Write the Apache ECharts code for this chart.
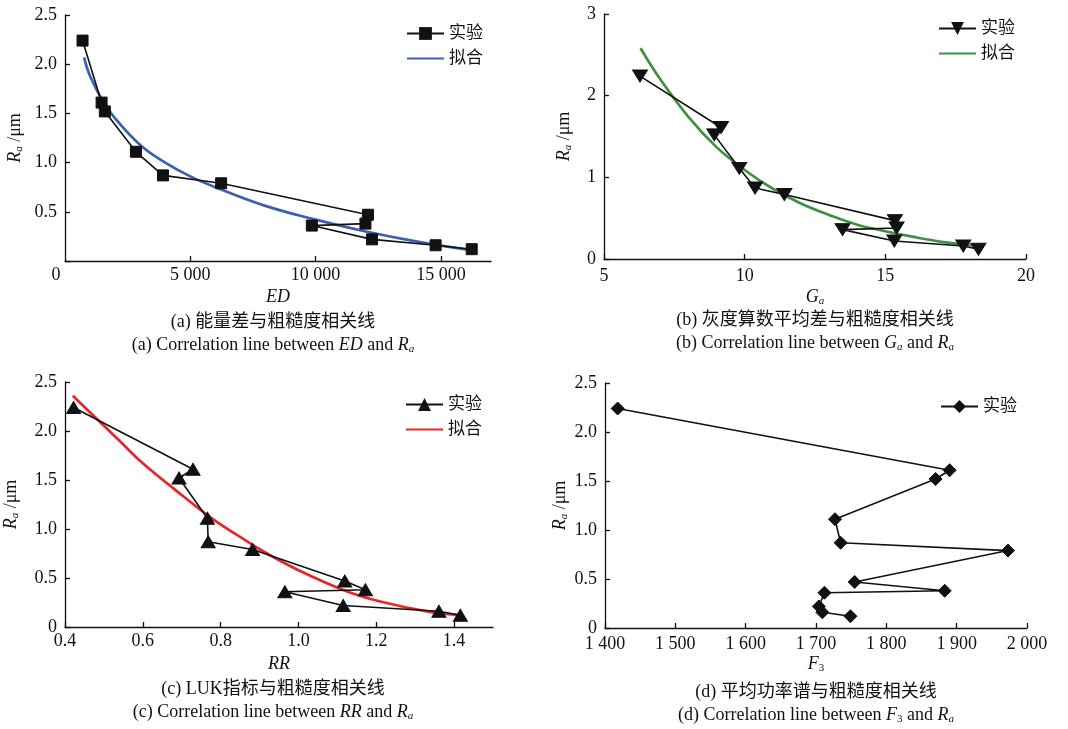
<!DOCTYPE html>
<html>
<head>
<meta charset="utf-8">
<script src="https://cdn.jsdelivr.net/npm/echarts@6/dist/echarts.min.js"></script>
<style>
html,body{margin:0;padding:0;background:#fff;}
#c{width:1068px;height:729px;}
</style>
</head>
<body>
<div id="c"></div>
<script>
// Shared roughness values (experiment order)
const raValues = [2.24, 1.61, 1.52, 1.11, 0.87, 0.79, 0.47, 0.38, 0.36, 0.22, 0.16, 0.12];
// (a) ED
const edValues = [700, 1460, 1590, 2830, 3910, 6230, 12090, 11990, 9850, 12250, 14790, 16230];
const edFitX = [760, 1000, 1500, 2000, 3000, 4000, 5000, 6000, 8000, 10000, 12000, 14000, 16200];
const edFitY = [2.07, 1.88, 1.63, 1.45, 1.18, 1.00, 0.86, 0.75, 0.56, 0.42, 0.30, 0.20, 0.11];
// (b) Ga
const gaValues = [6.28, 9.16, 8.92, 9.81, 10.37, 11.41, 15.34, 15.40, 13.48, 15.32, 17.77, 18.31];
const gaFitX = [6.3, 7, 8, 9, 10, 11, 12, 13, 14, 15, 16, 17, 18, 18.5];
const gaFitY = [2.58, 2.20, 1.74, 1.37, 1.09, 0.86, 0.68, 0.54, 0.42, 0.34, 0.27, 0.21, 0.17, 0.15];
// (c) RR
const rrValues = [0.422, 0.729, 0.693, 0.766, 0.768, 0.882, 1.119, 1.172, 0.965, 1.115, 1.361, 1.416];
const rrFitX = [0.42, 0.48, 0.54, 0.60, 0.68, 0.78, 0.85, 0.91, 1.00, 1.12, 1.21, 1.33, 1.42];
const rrFitY = [2.36, 2.13, 1.90, 1.67, 1.41, 1.10, 0.92, 0.77, 0.58, 0.37, 0.26, 0.16, 0.12];
// (d) F3
const f3Values = [1418, 1890, 1870, 1727, 1735, 1973, 1755, 1883, 1712, 1704, 1709, 1749];

// Tick labels
const edTicks = [0, 5000, 10000, 15000];
const gaTicks = [5, 10, 15, 20];
const rrTicks = [0.4, 0.6, 0.8, 1.0, 1.2, 1.4];
const f3Ticks = [1400, 1500, 1600, 1700, 1800, 1900, 2000];
const raTicks25 = [0, 0.5, 1.0, 1.5, 2.0, 2.5];
const raTicks3 = [0, 1, 2, 3];

const FONT = "'Liberation Serif', 'Noto Sans CJK SC', serif";
const BLACK = '#111';
const LS = 18; // tick label size
const pair = (xs, ys) => xs.map((x, i) => [x, ys[i]]);
const thouS = v => String(v).replace(/\B(?=(\d{3})+(?!\d))/g, ' ');

const rich = {
  i: {fontStyle: 'italic', fontFamily: FONT, fontSize: 18, color: BLACK},
  s: {fontStyle: 'italic', fontFamily: FONT, fontSize: 11, color: BLACK, padding: [9, 0, 0, 0]},
  n: {fontFamily: FONT, fontSize: 11, color: BLACK, padding: [9, 0, 0, 0]},
  t: {fontFamily: FONT, fontSize: 18, color: BLACK},
  z: {fontFamily: FONT, fontSize: LS, color: BLACK, padding: [0, 18, 0, 0]}
};

const grids = [
  {left: 65, top: 15, width: 426, height: 246},
  {left: 604, top: 14, width: 422, height: 245},
  {left: 65, top: 382, width: 428, height: 245},
  {left: 605, top: 383, width: 422, height: 245}
];

const tickStyle = {color: BLACK, width: 1.3};
function xAxis(idx, o) {
  return Object.assign({
    gridIndex: idx, type: 'value',
    nameLocation: 'middle',
    nameTextStyle: {fontFamily: FONT, fontSize: 18, color: BLACK, rich: rich},
    axisLine: {show: true, lineStyle: {color: BLACK, width: 1.3}},
    axisTick: {show: true, inside: true, length: 5, lineStyle: tickStyle},
    splitLine: {show: false}
  }, o);
}
function yAxis(idx, o) {
  return Object.assign({
    gridIndex: idx, type: 'value',
    nameLocation: 'middle', nameRotate: 90,
    name: '{i|R}{s|a}{t| /μm}',
    nameTextStyle: {fontFamily: FONT, fontSize: 18, color: BLACK, rich: rich},
    axisLine: {show: true, lineStyle: {color: BLACK, width: 1.3}},
    axisTick: {show: true, inside: true, length: 5, lineStyle: tickStyle},
    splitLine: {show: false}
  }, o);
}
const lab = (o) => Object.assign({color: BLACK, fontFamily: FONT, fontSize: LS, rich: rich}, o);

const xAxes = [
  xAxis(0, {min: 0, max: 17000, interval: 5000, name: '{i|ED}', nameGap: 27,
    axisLabel: lab({margin: 5, customValues: edTicks, formatter: v => v === 0 ? '{z|0}' : thouS(v)}),
    axisTick: {show: true, inside: true, length: 5, customValues: edTicks.slice(1), lineStyle: tickStyle}}),
  xAxis(1, {min: 5, max: 20, interval: 5, name: '{i|G}{s|a}', nameGap: 28,
    axisLabel: lab({margin: 8, customValues: gaTicks})}),
  xAxis(2, {min: 0.4, max: 1.5, interval: 0.2, name: '{i|RR}', nameGap: 28,
    axisLabel: lab({margin: 5, customValues: rrTicks, formatter: v => v.toFixed(1)}),
    axisTick: {show: true, inside: true, length: 5, customValues: rrTicks, lineStyle: tickStyle}}),
  xAxis(3, {min: 1400, max: 2000, interval: 100, name: '{i|F}{n|3}', nameGap: 26,
    axisLabel: lab({margin: 7, customValues: f3Ticks, formatter: v => thouS(v)})})
];
const yAxes = [
  yAxis(0, {min: 0, max: 2.5, interval: 0.5, nameGap: 40,
    axisLabel: lab({margin: 8, customValues: raTicks25.slice(1), formatter: v => v.toFixed(1)})}),
  yAxis(1, {min: 0, max: 3, interval: 1, nameGap: 30,
    axisLabel: lab({margin: 8, customValues: raTicks3})}),
  yAxis(2, {min: 0, max: 2.5, interval: 0.5, nameGap: 44,
    axisLabel: lab({margin: 8, customValues: raTicks25, formatter: v => v === 0 ? '0' : v.toFixed(1)})}),
  yAxis(3, {min: 0, max: 2.5, interval: 0.5, nameGap: 35,
    axisLabel: lab({margin: 8, customValues: raTicks25, formatter: v => v === 0 ? '0' : v.toFixed(1)})})
];

function expSeries(idx, name, xs, symbol, size, rotate) {
  return {
    type: 'line', name: name, xAxisIndex: idx, yAxisIndex: idx,
    data: pair(xs, raValues),
    symbol: symbol, symbolSize: size, symbolRotate: rotate || 0,
    showAllSymbol: true,
    lineStyle: {color: BLACK, width: 1.6},
    itemStyle: {color: BLACK, borderColor: BLACK},
    z: 3, animation: false
  };
}
function fitSeries(idx, name, xs, ys, color) {
  return {
    type: 'line', name: name, xAxisIndex: idx, yAxisIndex: idx,
    data: pair(xs, ys), smooth: 0.4,
    showSymbol: false, symbol: 'circle', symbolSize: 0,
    lineStyle: {color: color, width: 2.7},
    itemStyle: {color: color, opacity: 0},
    z: 2, animation: false
  };
}

const BLUE = '#3c5fb0', GREEN = '#3f8f45', RED = '#e8262a';

const series = [
  expSeries(0, 'a实验', edValues, 'rect', 11),
  fitSeries(0, 'a拟合', edFitX, edFitY, BLUE),
  expSeries(1, 'b实验', gaValues, 'triangle', [15, 12], 180),
  fitSeries(1, 'b拟合', gaFitX, gaFitY, GREEN),
  expSeries(2, 'c实验', rrValues, 'triangle', [14, 12]),
  fitSeries(2, 'c拟合', rrFitX, rrFitY, RED),
  expSeries(3, 'd实验', f3Values, 'diamond', 13)
];

function legend(left, top, names) {
  return {
    orient: 'vertical', left: left, top: top, itemWidth: 37, itemHeight: 16, itemGap: 8,
    data: names,
    formatter: n => n.slice(1),
    textStyle: {fontFamily: FONT, fontSize: 17, color: BLACK, lineHeight: 17},
    selectedMode: false
  };
}

function cap(x, y, text, size) {
  return {
    text: text, left: x, top: y, textAlign: 'center',
    textStyle: {fontFamily: FONT, fontSize: size, fontWeight: 'normal', color: BLACK, rich: {
      i: {fontStyle: 'italic', fontFamily: FONT, fontSize: size, color: BLACK},
      s: {fontStyle: 'italic', fontFamily: FONT, fontSize: 11, color: BLACK, padding: [9, 0, 0, 0]},
      n: {fontFamily: FONT, fontSize: 11, color: BLACK, padding: [9, 0, 0, 0]}
    }},
    padding: 0
  };
}

const option = {
  backgroundColor: '#fff',
  animation: false,
  grid: grids,
  xAxis: xAxes,
  yAxis: yAxes,
  legend: [
    legend(401, 20, ['a实验', 'a拟合']),
    legend(933, 15, ['b实验', 'b拟合']),
    legend(400, 391, ['c实验', 'c拟合']),
    legend(935, 393, ['d实验'])
  ],
  title: [
    cap(273, 313, '(a) 能量差与粗糙度相关线', 18),
    cap(273, 335, '(a) Correlation line between {i|ED} and {i|R}{s|a}', 18),
    cap(815, 311, '(b) 灰度算数平均差与粗糙度相关线', 18),
    cap(815, 333, '(b) Correlation line between {i|G}{s|a} and {i|R}{s|a}', 18),
    cap(273, 680, '(c) LUK指标与粗糙度相关线', 18),
    cap(273, 702, '(c) Correlation line between {i|RR} and {i|R}{s|a}', 18),
    cap(816, 683, '(d) 平均功率谱与粗糙度相关线', 18),
    cap(816, 705, '(d) Correlation line between {i|F}{n|3} and {i|R}{s|a}', 18)
  ],
  series: series
};

const chart = echarts.init(document.getElementById('c'), null, {renderer: 'canvas'});
chart.setOption(option);
</script>
</body>
</html>
